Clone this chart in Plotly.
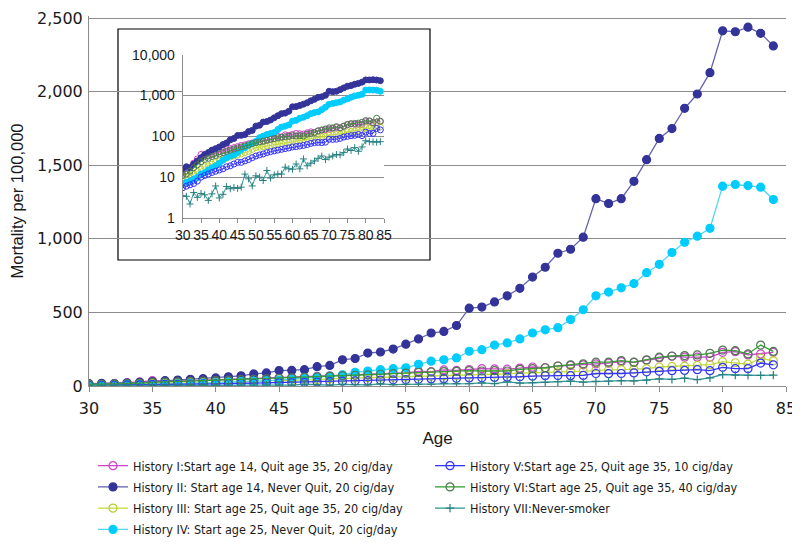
import plotly.graph_objects as go

ages = list(range(30, 85))

hist_I = [12, 14, 17, 22, 28, 36, 34, 33, 36, 39, 42, 45, 47, 50, 53, 56, 60, 62, 66, 69,
          72, 74, 76, 82, 86, 89, 100, 97, 109, 106, 112, 118, 116, 114, 122, 129, 124, 136, 140, 144,
          150, 155, 165, 160, 175, 191, 202, 196, 196, 196, 229, 233, 211, 218, 229]
hist_II = [16, 18, 17, 21, 25, 30, 36, 40, 46, 50, 55, 63, 69, 82, 89, 105, 106, 111, 131, 140,
           178, 187, 224, 231, 251, 284, 320, 360, 371, 411, 529, 536, 571, 613, 664, 740, 807, 902, 929, 1011,
           1273, 1240, 1273, 1391, 1538, 1682, 1749, 1887, 1984, 2129, 2413, 2407, 2438, 2396, 2311]
hist_III = [9, 10, 11, 12, 14, 16, 18, 19, 21, 23, 25, 27, 29, 31, 33, 35, 37, 40, 43, 48,
            53, 54, 56, 58, 60, 62, 64, 67, 70, 72, 75, 78, 80, 83, 87, 91, 94, 96, 98, 100,
            107, 109, 111, 113, 118, 129, 133, 135, 140, 145, 165, 158, 148, 189, 171]
hist_IV = [7, 7.5, 8, 9, 10, 12, 13, 15, 17, 19, 22, 26, 30, 33, 35, 40, 47, 53, 60, 67,
           76, 93, 102, 111, 118, 124, 147, 169, 178, 191, 236, 247, 278, 293, 320, 360, 382, 396, 451, 518,
           613, 638, 667, 696, 770, 827, 907, 976, 1018, 1071, 1358, 1369, 1362, 1351, 1267]
hist_V = [5.5, 6, 6.5, 7, 8, 10, 11, 12, 13, 14, 15, 16, 18, 19, 21, 23, 23, 25, 27, 30,
          33, 35, 37, 40, 42, 44, 46, 48, 50, 52, 55, 56, 58, 60, 63, 67, 70, 71, 70, 72,
          85, 84, 85, 89, 96, 100, 104, 106, 111, 104, 127, 118, 118, 156, 144]
hist_VI = [11, 12, 14, 17, 20, 24, 27, 29, 32, 34, 37, 40, 43, 46, 49, 52, 55, 58, 62, 66,
           70, 73, 76, 80, 84, 88, 92, 95, 98, 100, 104, 102, 104, 102, 113, 118, 124, 136, 144, 151,
           162, 162, 173, 162, 178, 196, 204, 207, 211, 222, 244, 240, 218, 278, 235]
hist_VII = [3.5, 3.4, 2.2, 4.2, 3.2, 4.0, 3.7, 2.7, 3.9, 6.1, 3.1, 3.8, 5.9, 5.2, 5.6, 5.3, 5.7, 11.9, 9.1, 6.1,
            10.8, 10.0, 8.3, 14.6, 9.5, 11.4, 12, 11.9, 17.6, 16, 15.7, 21, 16, 28, 19, 22, 25, 29, 33, 27,
            31, 33, 36, 35, 40, 49, 45, 53, 43, 55, 78, 74, 73, 72, 74]

names = [
    "History I:Start age 14, Quit age 35, 20 cig/day",
    "History II: Start age 14, Never Quit, 20 cig/day",
    "History III: Start age 25, Quit age 35, 20 cig/day",
    "History IV: Start age 25, Never Quit, 20 cig/day",
    "History V:Start age 25, Quit age 35, 10 cig/day",
    "History VI:Start age 25, Quit age 35, 40 cig/day",
    "History VII:Never-smoker",
]
series = [hist_I, hist_II, hist_III, hist_IV, hist_V, hist_VI, hist_VII]

styles = [
    dict(line="#CC44CC", sym="circle-open", mcol="#CC44CC", size=8),
    dict(line="#6262B0", sym="circle", mcol="#333399", size=8),
    dict(line="#C4DC3C", sym="circle-open", mcol="#B8D030", size=8),
    dict(line="#55D5EE", sym="circle", mcol="#00CCFF", size=8),
    dict(line="#3333FF", sym="circle-open", mcol="#3333FF", size=8),
    dict(line="#33A033", sym="circle-open", mcol="#4E7A4E", size=8),
    dict(line="#339999", sym="cross-thin", mcol="#2A8080", size=6),
]

fig = go.Figure()

for i, (nm, ys, st) in enumerate(zip(names, series, styles)):
    fig.add_trace(go.Scatter(
        x=ages, y=ys, name=nm, mode="lines+markers", legendgroup=nm,
        line=dict(color=st["line"], width=1.3),
        marker=dict(symbol=st["sym"], color=st["mcol"], size=st["size"],
                    line=dict(color=st["mcol"], width=1.2)),
        legend="legend" if i < 4 else "legend2",
        xaxis="x", yaxis="y",
    ))

inset_size = [6, 6, 6, 6, 6, 6, 5]
for i, (nm, ys, st) in enumerate(zip(names, series, styles)):
    fig.add_trace(go.Scatter(
        x=ages, y=ys, name=nm, mode="lines+markers", showlegend=False,
        line=dict(color=st["line"], width=1),
        marker=dict(symbol=st["sym"], color=st["mcol"], size=inset_size[i],
                    line=dict(color=st["mcol"], width=1)),
        xaxis="x2", yaxis="y2",
    ))

# the page body adds an 8px offset; the figure is sized to fit the window
OFF = 8
W, H = 792, 536
L, R, T, B = 81, 14, 8, 158
pw, ph = W - L - R, H - T - B

def px_x(p):
    return (p - OFF - L) / pw

def px_y(p):
    return (H - B - (p - OFF)) / ph

fig.add_shape(type="rect", xref="x2 domain", yref="y2 domain",
              x0=(118 - 182.7) / 201.3, x1=(430 - 182.7) / 201.3,
              y0=(218 - 260) / 163.3, y1=(218 - 29) / 163.3,
              fillcolor="white", line=dict(color="black", width=1.2), layer="below")

fnt = "Liberation Sans, Arial, sans-serif"
tickfnt = "DejaVu Sans, Liberation Sans, sans-serif"
legfnt = "DejaVu Sans Condensed, Liberation Sans, sans-serif"

fig.update_layout(
    width=W, height=H,
    margin=dict(l=L, r=R, t=T, b=B, autoexpand=False),
    paper_bgcolor="white", plot_bgcolor="white",
    font=dict(family=fnt, color="#1a1a1a"),
    xaxis=dict(range=[30, 85], tick0=30, dtick=5, showgrid=False, zeroline=False,
               showline=True, linecolor="#8c8c8c", linewidth=1,
               ticks="outside", ticklen=5, tickcolor="#8c8c8c", ticklabelstandoff=3,
               tickfont=dict(size=16, family=tickfnt),
               title=dict(text="Age", font=dict(size=17), standoff=14)),
    yaxis=dict(range=[0, 2514], tickvals=[0, 500, 1000, 1500, 2000, 2500], tickformat=",",
               showgrid=True, gridcolor="#8c8c8c",
               gridwidth=1, zeroline=False, showline=True, linecolor="#8c8c8c", ticks="",
               ticklabelstandoff=2,
               tickfont=dict(size=16, family=tickfnt),
               title=dict(text="Mortality per 100,000", font=dict(size=16.5), standoff=9)),
    xaxis2=dict(domain=[px_x(182.7), px_x(384)], anchor="y2", range=[30, 85], tick0=30, dtick=5,
                showgrid=False, zeroline=False, showline=True, linecolor="#8c8c8c",
                ticks="outside", ticklen=4, tickcolor="#8c8c8c", tickfont=dict(size=14)),
    yaxis2=dict(domain=[px_y(218), px_y(54.7)], anchor="x2", type="log", range=[0, 4],
                dtick=1, tickformat=",", showgrid=True, gridcolor="#8c8c8c", zeroline=False,
                showline=True, linecolor="#8c8c8c", ticks="", ticklabelstandoff=4,
                tickfont=dict(size=14)),
    legend=dict(x=px_x(93), y=px_y(451), xanchor="left", yanchor="top",
                font=dict(size=12.5, family=legfnt), traceorder="grouped",
                bgcolor="rgba(0,0,0,0)", itemwidth=30, tracegroupgap=2),
    legend2=dict(x=px_x(430), y=px_y(451), xanchor="left", yanchor="top",
                 font=dict(size=12.5, family=legfnt), traceorder="grouped",
                 bgcolor="rgba(0,0,0,0)", itemwidth=30, tracegroupgap=2),
    showlegend=True,
)

fig.write_html("out.html")
